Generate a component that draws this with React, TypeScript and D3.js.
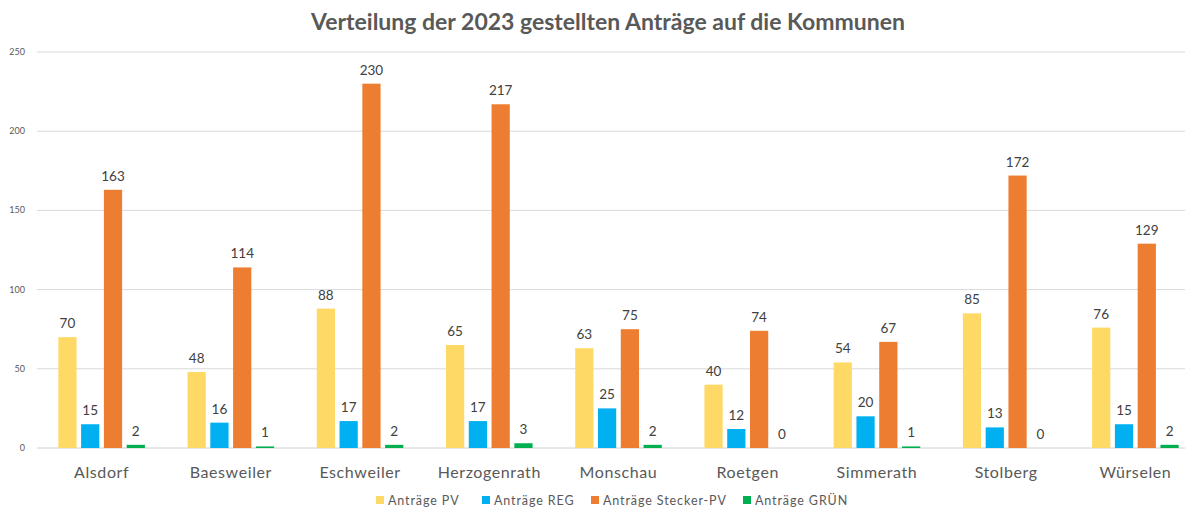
import React from "react";
import * as d3 from "d3";

const categories = ["Alsdorf", "Baesweiler", "Eschweiler", "Herzogenrath", "Monschau", "Roetgen", "Simmerath", "Stolberg", "Würselen"];
const seriesNames = ["Anträge PV", "Anträge REG", "Anträge Stecker-PV", "Anträge GRÜN"];
const antraegePV = [70, 48, 88, 65, 63, 40, 54, 85, 76];
const antraegeREG = [15, 16, 17, 17, 25, 12, 20, 13, 15];
const antraegeStecker = [163, 114, 230, 217, 75, 74, 67, 172, 129];
const antraegeGruen = [2, 1, 2, 3, 2, 0, 1, 0, 2];
const yTicks = [0, 50, 100, 150, 200, 250];
const colors = ["#FFD966", "#00B0F0", "#ED7D31", "#00B050"];

const W = 1185;
const H = 508;
const FONT = "Lato, 'Open Sans', sans-serif";

export default function App() {
  const series = [antraegePV, antraegeREG, antraegeStecker, antraegeGruen];
  const x0 = d3.scaleBand<string>().domain(categories).range([37, 1200]).paddingInner(0.33).paddingOuter(0.165);
  const x1 = d3.scaleBand<number>().domain([0, 1, 2, 3]).range([0, x0.bandwidth()]).paddingInner(0.2);
  const y = d3.scaleLinear().domain([0, 250]).range([448, 52]);
  const legendX = [376, 482, 591, 743];

  return (
    <div style={{ position: "fixed", left: 0, top: 0 }}>
      <svg width={W} height={H} style={{ display: "block", background: "#fff", fontFamily: FONT }}>
        <rect x={0} y={0} width={W} height={H} fill="#fff" />
        <text x={608} y={30} textAnchor="middle" fontSize={23} fontWeight={700} fill="#595959">
          Verteilung der 2023 gestellten Anträge auf die Kommunen
        </text>
        {yTicks.map((t) => (
          <g key={t}>
            <line x1={37} x2={W} y1={y(t)} y2={y(t)} stroke={t === 0 ? "#d0d0d0" : "#d9d9d9"} strokeWidth={1} />
            <text x={25} y={y(t) + 3} textAnchor="end" fontSize={9} fill="#595959">{t}</text>
          </g>
        ))}
        {categories.map((c, i) => (
          <g key={c} transform={`translate(${x0(c)},0)`}>
            {series.map((s, j) => {
              const v = s[i];
              const bx = x1(j)!;
              const bw = x1.bandwidth();
              return (
                <g key={j}>
                  <rect x={bx} y={y(v)} width={bw} height={448 - y(v)} fill={colors[j]} />
                  <text x={bx + bw / 2} y={y(v) - 9} textAnchor="middle" fontSize={13.5} fill="#404040">{v}</text>
                </g>
              );
            })}
            <text x={x0.bandwidth() / 2} y={478} textAnchor="middle" fontSize={16} letterSpacing={0.6} fill="#595959">{c}</text>
          </g>
        ))}
        {seriesNames.map((n, j) => (
          <g key={n}>
            <rect x={legendX[j]} y={496} width={8} height={8} fill={colors[j]} />
            <text x={legendX[j] + 12} y={505} fontSize={12.5} letterSpacing={0.9} fill="#595959">{n}</text>
          </g>
        ))}
      </svg>
    </div>
  );
}
